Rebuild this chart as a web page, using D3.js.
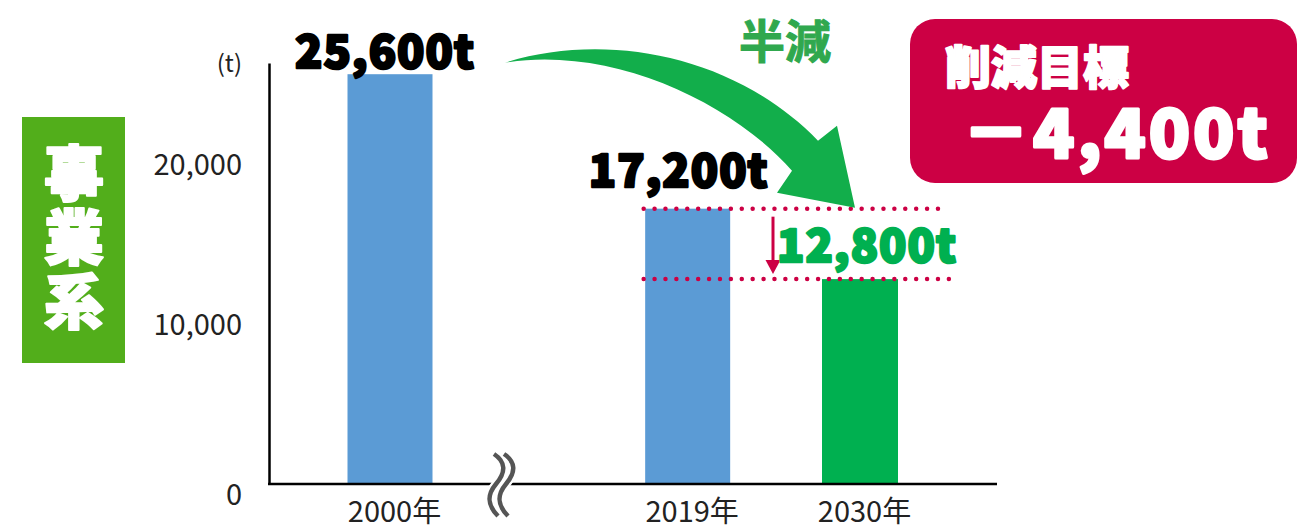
<!DOCTYPE html>
<html>
<head>
<meta charset="utf-8">
<script src="https://cdn.jsdelivr.net/npm/d3@7"></script>
<style>
  body { margin: 0; background: #fff; }
  text { font-family: "Noto Sans CJK JP", "Noto Sans", sans-serif; }
</style>
</head>
<body>
<div id="chart"></div>
<script>
// data
var years = [2000, 2019, 2030]
var categories = ['2000年', '2019年', '2030年']
var values = [25600, 17200, 12800]
var valueLabels = ['25,600t', '17,200t', '12,800t']
var yTicks = [0, 10000, 20000]
var unitLabel = '(t)'
var sideLabel = '事業系'
var halfLabel = '半減'
var targetTitle = '削減目標'
var targetValue = '－4,400t'

var width = 1306
var height = 530

var svg = d3
  .select('#chart')
  .append('svg')
  .attr('width', width)
  .attr('height', height)

// scales
var xPositionScale = d3.scaleLinear().domain([2000, 2030]).range([390, 860])
var yPositionScale = d3.scaleLinear().domain([0, 26300]).range([484, 63])

var barColor = function(year) {
  return year === 2030 ? '#00b050' : '#5b9bd5'
}
var barWidth = function(year) {
  return year === 2030 ? 76 : 85
}

var datapoints = years.map(function(y, i) {
  return { year: y, label: categories[i], value: values[i], text: valueLabels[i] }
})

// green side box with vertical text
svg
  .append('rect')
  .attr('x', 22)
  .attr('y', 117)
  .attr('width', 103)
  .attr('height', 246)
  .attr('fill', '#52ae1b')

svg
  .append('text')
  .attr('x', 74)
  .attr('y', 143)
  .attr('writing-mode', 'vertical-rl')
  .attr('font-size', 60)
  .attr('font-weight', 900)
  .attr('letter-spacing', 4)
  .attr('fill', '#fff')
  .attr('stroke', '#fff')
  .attr('stroke-width', 2)
  .attr('stroke-linejoin', 'round')
  .text(sideLabel)

// bars
svg
  .selectAll('.bar')
  .data(datapoints)
  .enter()
  .append('rect')
  .attr('class', 'bar')
  .attr('x', d => xPositionScale(d.year) - barWidth(d.year) / 2)
  .attr('width', d => barWidth(d.year))
  .attr('y', d => yPositionScale(d.value))
  .attr('height', d => yPositionScale(0) - yPositionScale(d.value))
  .attr('fill', d => barColor(d.year))

// y axis
var yAxis = d3
  .axisLeft(yPositionScale)
  .tickValues(yTicks)
  .tickFormat(d3.format(','))
  .tickSize(0)
  .tickSizeOuter(0)
  .tickPadding(27)

var yAxisG = svg
  .append('g')
  .attr('transform', 'translate(269,0)')
  .call(yAxis)

yAxisG.select('.domain').attr('stroke', '#000').attr('stroke-width', 2.5)
yAxisG
  .selectAll('.tick text')
  .attr('font-size', 29)
  .attr('fill', '#222')
  .attr('font-family', '"Noto Sans CJK JP", sans-serif')
  .attr('dy', d => (d === 0 ? '0.72em' : '0.35em'))

svg
  .append('text')
  .attr('x', 242)
  .attr('y', 72)
  .attr('text-anchor', 'end')
  .attr('font-size', 24)
  .attr('fill', '#222')
  .text(unitLabel)

// x axis baseline
svg
  .append('line')
  .attr('x1', 268)
  .attr('x2', 997)
  .attr('y1', yPositionScale(0))
  .attr('y2', yPositionScale(0))
  .attr('stroke', '#000')
  .attr('stroke-width', 2.5)

var xAxis = d3
  .axisBottom(xPositionScale)
  .tickValues(years)
  .tickFormat((d, i) => categories[i])
  .tickSize(0)
  .tickSizeOuter(0)
  .tickPadding(17)

var xAxisG = svg
  .append('g')
  .attr('transform', 'translate(4,' + yPositionScale(0) + ')')
  .call(xAxis)
xAxisG.select('.domain').remove()
xAxisG
  .selectAll('.tick text')
  .attr('font-size', 29)
  .attr('fill', '#222')
  .attr('font-family', '"Noto Sans CJK JP", sans-serif')

// axis break symbol
var wave = 'M0,0 C12,8 12,18 2,30 C-8,42 -6,52 4,62'
svg
  .selectAll('.wave')
  .data([0, 10])
  .enter()
  .append('path')
  .attr('class', 'wave')
  .attr('d', wave)
  .attr('transform', d => 'translate(' + (494 + d) + ',454)')
  .attr('fill', 'none')
  .attr('stroke', '#fff')
  .attr('stroke-width', 9)
svg
  .selectAll('.wave2')
  .data([0, 10])
  .enter()
  .append('path')
  .attr('class', 'wave2')
  .attr('d', wave)
  .attr('transform', d => 'translate(' + (494 + d) + ',454)')
  .attr('fill', 'none')
  .attr('stroke', '#555')
  .attr('stroke-width', 4.5)

// dotted guide lines at 2019 and 2030 values
var guideEnds = [942, 952]
svg
  .selectAll('.guide')
  .data(datapoints.slice(1))
  .enter()
  .append('line')
  .attr('class', 'guide')
  .attr('x1', xPositionScale(2019) - 44)
  .attr('x2', (d, i) => guideEnds[i])
  .attr('y1', d => yPositionScale(d.value))
  .attr('y2', d => yPositionScale(d.value))
  .attr('stroke', '#cc0044')
  .attr('stroke-width', 4.5)
  .attr('stroke-linecap', 'round')
  .attr('stroke-dasharray', '0 10.9')

// small red down arrow
var yTop = yPositionScale(values[1])
var yBot = yPositionScale(values[2])
svg
  .append('line')
  .attr('x1', 773)
  .attr('x2', 773)
  .attr('y1', yTop + 8)
  .attr('y2', yBot - 16)
  .attr('stroke', '#cc0044')
  .attr('stroke-width', 3)
svg
  .append('path')
  .attr('d', `M765.5,${yBot - 19} L780.5,${yBot - 19} L773,${yBot - 5} Z`)
  .attr('fill', '#cc0044')

// big green curved arrow, tip sits on the 2019 line
svg
  .append('path')
  .attr(
    'd',
    'M505,52 C600,22 730,40 818,130 L837,115 L855,197 L777,182 L792,160 C730,90 610,35 505,52 Z'
  )
  .attr('transform', 'translate(0,' + (yTop - 198) + ')')
  .attr('fill', '#12ae4b')

svg
  .append('text')
  .attr('x', 739)
  .attr('y', 58)
  .attr('font-size', 46)
  .attr('font-weight', 700)
  .attr('fill', '#30a84e')
  .attr('stroke', '#30a84e')
  .attr('stroke-width', 1)
  .text(halfLabel)

// value labels
var labelStyle = function(sel, color) {
  sel
    .attr('font-size', 45)
    .attr('font-weight', 900)
    .attr('letter-spacing', 1)
    .attr('fill', color)
    .attr('stroke', color)
    .attr('stroke-width', 2.5)
    .attr('stroke-linejoin', 'round')
}

svg
  .append('text')
  .attr('x', xPositionScale(2000) - 5)
  .attr('y', yPositionScale(values[0]) - 6)
  .attr('text-anchor', 'middle')
  .call(labelStyle, '#000')
  .text(valueLabels[0])

svg
  .append('text')
  .attr('x', xPositionScale(2019) - 9)
  .attr('y', yTop - 22)
  .attr('text-anchor', 'middle')
  .call(labelStyle, '#000')
  .text(valueLabels[1])

svg
  .append('text')
  .attr('x', xPositionScale(2030) + 7)
  .attr('y', yBot - 17)
  .attr('text-anchor', 'middle')
  .call(labelStyle, '#00b050')
  .text(valueLabels[2])

// red target box
svg
  .append('rect')
  .attr('x', 910)
  .attr('y', 19)
  .attr('width', 387)
  .attr('height', 164)
  .attr('rx', 25)
  .attr('fill', '#cc0044')

svg
  .append('text')
  .attr('x', 945)
  .attr('y', 84)
  .attr('font-size', 46)
  .attr('font-weight', 900)
  .attr('fill', '#fff')
  .attr('stroke', '#fff')
  .attr('stroke-width', 2)
  .attr('stroke-linejoin', 'round')
  .text(targetTitle)

svg
  .append('text')
  .attr('x', 962)
  .attr('y', 158)
  .attr('font-size', 68)
  .attr('font-weight', 900)
  .attr('letter-spacing', 3)
  .attr('fill', '#fff')
  .attr('stroke', '#fff')
  .attr('stroke-width', 3)
  .attr('stroke-linejoin', 'round')
  .text(targetValue)
</script>
</body>
</html>
